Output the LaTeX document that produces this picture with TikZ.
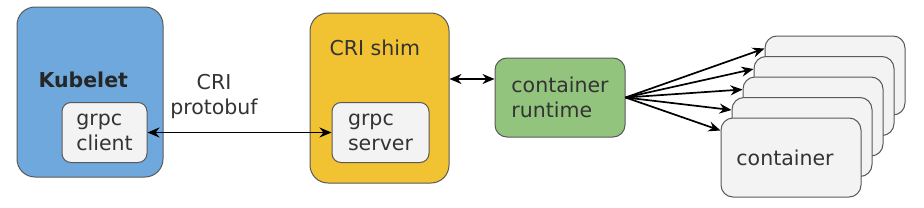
\documentclass[tikz,border=0pt]{standalone}
\usepackage{fontspec}
\setmainfont{DejaVu Sans}
\usetikzlibrary{arrows.meta, positioning, calc}

\definecolor{kubeblue}{HTML}{6FA8DC}
\definecolor{shimyellow}{HTML}{F1C232}
\definecolor{rtgreen}{HTML}{93C47D}
\definecolor{boxgray}{HTML}{F3F3F3}
\definecolor{edgegray}{HTML}{595959}
\definecolor{textgray}{HTML}{333333}

\begin{document}
\begin{tikzpicture}[
    x=1pt, y=1pt,
    >={Stealth[length=12pt, width=10pt]}, % 矢印の形
    font=\fontsize{20.5}{25}\selectfont,
    % 外側の大きなブロック
    outer/.style={rectangle, rounded corners=18pt, draw=edgegray, line width=1pt, text=textgray},
    % 内側の灰色のブロック
    inner/.style={rectangle, rounded corners=9pt, draw=edgegray, line width=1pt, fill=boxgray,
        align=left, text=textgray, inner sep=0pt},
    % コンテナの箱
    cbox/.style={rectangle, rounded corners=12pt, draw=edgegray, line width=1pt, fill=boxgray,
        minimum width=140pt, minimum height=79pt, text=textgray},
    link/.style={line width=1.7pt}
]
\useasboundingbox (0,0) rectangle (924,207);

% 1. 各要素（ノード）の配置
\node [outer, fill=kubeblue, minimum width=146pt, minimum height=170pt] (kubelet_block) at (90,115) {};
\node [anchor=west, text=black!85, font=\fontsize{20.5}{25}\selectfont\bfseries] (kubelet_label) at (35,127) {Kubelet};
\node [inner, minimum width=85pt, minimum height=60pt] (grpc_client) at (104.5,74.5) {grpc\\client};

\node [align=center, text=textgray] (cri_label) at (214,110) {CRI\\protobuf};

\node [outer, fill=shimyellow, minimum width=139pt, minimum height=170pt] (shim_block) at (379.5,109) {};
\node [anchor=west, text=textgray] (shim_label) at (326,159) {CRI shim};
\node [inner, minimum width=97pt, minimum height=60pt] (grpc_server) at (380.5,74.5) {grpc\\server};

\node [outer, rounded corners=12pt, fill=rtgreen, minimum width=130pt, minimum height=79pt,
    align=left] (runtime_block) at (560,109.5) {container\\runtime};

% 後ろから順にコンテナを重ねる
\foreach \i in {4,...,1}
    \node [cbox] (container\i) at (791+11*\i, 49.5+20.5*\i) {};
\node [cbox] (container0) at (791,49.5) {\hspace*{-12pt}container};

% 2. 要素同士を線（矢印）で結ぶ
\draw [<->, link] (grpc_client.east) -- (grpc_server.west);
\draw [<->, link] ([yshift=19pt]shim_block.east) -- ([yshift=18.5pt]runtime_block.west);
\foreach \i in {0,...,4}
    \draw [->, link] (runtime_block.east) -- ([yshift=-13pt]container\i.north west);

\end{tikzpicture}
\end{document}
